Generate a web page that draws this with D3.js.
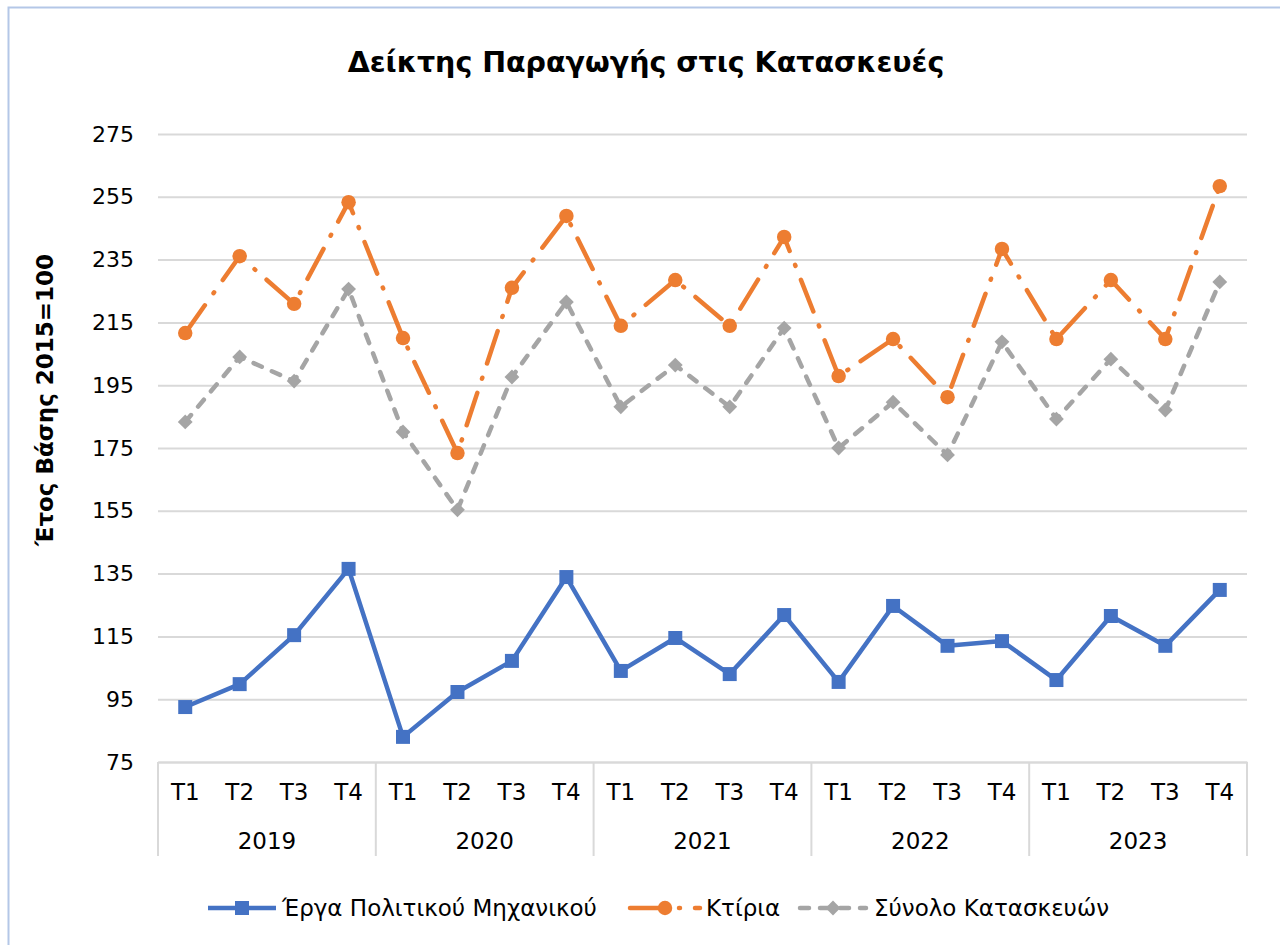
<!DOCTYPE html>
<html>
<head>
<meta charset="utf-8">
<script src="https://cdn.jsdelivr.net/npm/d3@7"></script>
<style>
  body { margin: 0; background: #fff; }
  svg { display: block; }
  text { font-family: "DejaVu Sans", Verdana, sans-serif; fill: #000; }
</style>
</head>
<body>
<svg width="1280" height="945"></svg>
<script>
// chart data
var years = ["2019", "2020", "2021", "2022", "2023"];
var quarters = ["T1", "T2", "T3", "T4"];
var yTicks = [75, 95, 115, 135, 155, 175, 195, 215, 235, 255, 275];

var erga = [92.5, 99.8, 115.4, 136.5, 83, 97.3, 107.2, 133.9, 104, 114.5, 103, 121.8,
            100.5, 124.7, 112, 113.5, 101.1, 121.5, 112, 129.8];
var ktiria = [211.6, 236.1, 220.9, 253.3, 210, 173.4, 226, 248.9, 213.9, 228.5, 213.9, 242.2,
              197.9, 209.7, 191.2, 238.4, 209.7, 228.5, 209.7, 258.4];
var synolo = [183.3, 204, 196.3, 225.6, 180.1, 155.3, 197.6, 221.5, 188.1, 201.4, 188.1, 213.2,
              175, 189.6, 172.8, 208.8, 184.2, 203.3, 187.1, 227.9];

var seriesNames = ["Έργα Πολιτικού Μηχανικού", "Κτίρια", "Σύνολο Κατασκευών"];

//intial variables
var svg = d3.select('svg');
var plotL = 158, plotR = 1247, plotT = 134, plotB = 762;

// categories: one per quarter
var cats = [];
years.forEach(yr => quarters.forEach(q => cats.push(yr + q)));

var x = d3.scaleBand().domain(cats).range([plotL, plotR]).padding(0);
var y = d3.scaleLinear().domain([75, 275]).range([plotB, plotT]);
var cx = (d, i) => x(cats[i]) + x.bandwidth() / 2;

// outer border
svg.append('rect')
  .attr('x', 8.5).attr('y', 7.5).attr('width', 1290).attr('height', 960)
  .attr('fill', 'none').attr('stroke', '#b4c7e7').attr('stroke-width', 2);

// title
svg.append('text')
  .attr('x', 646).attr('y', 72)
  .attr('text-anchor', 'middle')
  .style('font-weight', 'bold').style('font-size', '28.5px')
  .text('Δείκτης Παραγωγής στις Κατασκευές');

// gridlines + value labels
var yAxis = d3.axisLeft(y).tickValues(yTicks).tickSize(-(plotR - plotL)).tickPadding(24);
var gy = svg.append('g').attr('transform', 'translate(' + plotL + ',0)').call(yAxis);
gy.select('.domain').remove();
gy.selectAll('.tick line').attr('stroke', '#d9d9d9').attr('stroke-width', 2);
gy.selectAll('.tick text').style('font-size', '22px').style('font-family', null).attr('x', -24);

// y axis title
svg.append('text')
  .attr('transform', 'translate(53,' + ((plotT + plotB) / 2 - 48) + ') rotate(-90)')
  .attr('text-anchor', 'middle')
  .style('font-weight', 'bold').style('font-size', '23px')
  .text('Έτος Βάσης 2015=100');

// category axis: quarters
var xAxis = d3.axisBottom(x).tickFormat((d, i) => quarters[i % 4]).tickSize(0).tickPadding(22);
var gx = svg.append('g').attr('transform', 'translate(0,' + plotB + ')').call(xAxis);
gx.select('.domain').attr('stroke', '#d9d9d9').attr('stroke-width', 2);
gx.selectAll('.tick text').style('font-size', '23px').style('font-family', null);

// year group separators and labels
var yearScale = d3.scaleBand().domain(years).range([plotL, plotR]);
svg.append('g').selectAll('line')
  .data([plotL].concat(years.map(d => yearScale(d) + yearScale.bandwidth())))
  .enter().append('line')
  .attr('x1', d => d).attr('x2', d => d)
  .attr('y1', plotB).attr('y2', 856)
  .attr('stroke', '#d9d9d9').attr('stroke-width', 2);

svg.append('g').selectAll('text')
  .data(years)
  .enter().append('text')
  .attr('x', d => yearScale(d) + yearScale.bandwidth() / 2)
  .attr('y', 849)
  .attr('text-anchor', 'middle')
  .style('font-size', '23px')
  .text(d => d);

var line = d3.line().x((d, i) => cx(d, i)).y(d => y(d));

var blue = '#4472c4', orange = '#ed7d31', grey = '#a5a5a5';
var orangeDash = '34,15,1,15', greyDash = '9,11';

// series lines
svg.append('path').datum(erga)
  .attr('d', line).attr('fill', 'none')
  .attr('stroke', blue).attr('stroke-width', 4.5).attr('stroke-linejoin', 'round');

svg.append('path').datum(ktiria)
  .attr('d', line).attr('fill', 'none')
  .attr('stroke', orange).attr('stroke-width', 4.5)
  .attr('stroke-linecap', 'round').attr('stroke-dasharray', orangeDash);

svg.append('path').datum(synolo)
  .attr('d', line).attr('fill', 'none')
  .attr('stroke', grey).attr('stroke-width', 4.5)
  .attr('stroke-linecap', 'round').attr('stroke-dasharray', greyDash);

// markers
var squareSym = d3.symbol().type(d3.symbolSquare).size(196);
var diamondSym = d3.symbol().type(d3.symbolSquare).size(110);
var circleSym = d3.symbol().type(d3.symbolCircle).size(165);

svg.append('g').selectAll('path')
  .data(erga).enter().append('path')
  .attr('d', squareSym)
  .attr('transform', (d, i) => 'translate(' + cx(d, i) + ',' + y(d) + ')')
  .attr('fill', blue);

svg.append('g').selectAll('path')
  .data(ktiria).enter().append('path')
  .attr('d', circleSym)
  .attr('transform', (d, i) => 'translate(' + cx(d, i) + ',' + y(d) + ')')
  .attr('fill', orange);

svg.append('g').selectAll('path')
  .data(synolo).enter().append('path')
  .attr('d', diamondSym)
  .attr('transform', (d, i) => 'translate(' + cx(d, i) + ',' + y(d) + ') rotate(45)')
  .attr('fill', grey);

// legend
var legendY = 908;
var legend = [
  {name: seriesNames[0], color: blue, dash: null, x0: 208, x1: 276, tx: 282, sym: squareSym, rot: 0},
  {name: seriesNames[1], color: orange, dash: orangeDash, x0: 630, x1: 700, tx: 706, sym: circleSym, rot: 0},
  {name: seriesNames[2], color: grey, dash: greyDash, x0: 800, x1: 866, tx: 874, sym: diamondSym, rot: 45}
];
var lg = svg.append('g').selectAll('g').data(legend).enter().append('g');
lg.append('line')
  .attr('x1', d => d.x0).attr('x2', d => d.x1)
  .attr('y1', legendY).attr('y2', legendY)
  .attr('stroke', d => d.color).attr('stroke-width', 4.5)
  .attr('stroke-linecap', d => d.dash ? 'round' : 'butt')
  .attr('stroke-dasharray', d => d.dash);
lg.append('path')
  .attr('d', d => d.sym())
  .attr('transform', d => 'translate(' + (d.dash === orangeDash ? 665 : (d.x0 + d.x1) / 2) + ',' + legendY + ') rotate(' + d.rot + ')')
  .attr('fill', d => d.color);
lg.append('text')
  .attr('x', d => d.tx).attr('y', legendY).attr('dy', '0.36em')
  .style('font-size', '23px')
  .text(d => d.name);
</script>
</body>
</html>
